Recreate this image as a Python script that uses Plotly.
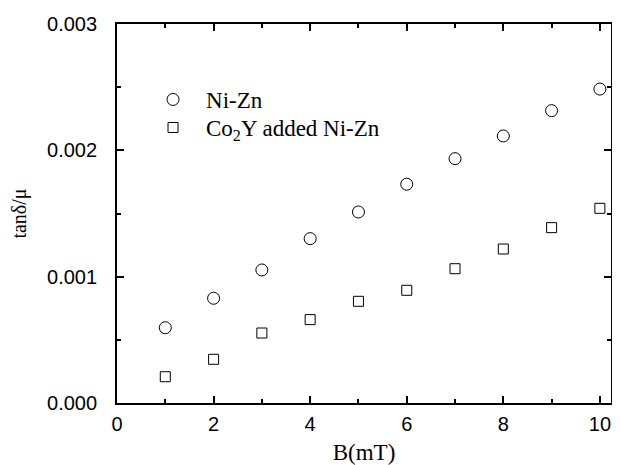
import plotly.graph_objects as go

B = [1, 2, 3, 4, 5, 6, 7, 8, 9, 10]
ni_zn = [0.000596, 0.000829, 0.001053, 0.001301, 0.001512, 0.001732, 0.001934, 0.002114, 0.002314, 0.002485]
co2y_ni_zn = [0.000208, 0.000346, 0.000554, 0.000660, 0.000805, 0.000892, 0.001063, 0.001219, 0.001388, 0.001541]
x_ticks = [0, 2, 4, 6, 8, 10]
y_ticks = [0.000, 0.001, 0.002, 0.003]
y_tick_labels = ["0.000", "0.001", "0.002", "0.003"]

SANS = "Liberation Sans, Arial, sans-serif"
SERIF = "Liberation Serif, Times New Roman, serif"

fig = go.Figure()
fig.add_trace(go.Scatter(
    x=B, y=ni_zn, mode="markers", name="Ni-Zn", legend="legend",
    marker=dict(symbol="circle-open", size=12, color="black", line=dict(width=1, color="black")),
))
fig.add_trace(go.Scatter(
    x=B, y=co2y_ni_zn, mode="markers", name="Co<sub>2</sub>Y added Ni-Zn", legend="legend2",
    marker=dict(symbol="square-open", size=10, color="black", line=dict(width=1, color="black")),
))

axis_common = dict(
    showline=True, linecolor="black", linewidth=1.8, mirror="ticks",
    ticks="inside", tickcolor="black", tickwidth=1.5, ticklen=7,
    showgrid=False, zeroline=False, automargin=False,
    tickfont=dict(family=SANS, size=20, color="black"),
)

legend_common = dict(
    xanchor="left", yanchor="top", bgcolor="rgba(0,0,0,0)", itemwidth=56,
    font=dict(family=SERIF, size=23, color="black"),
)

fig.update_layout(
    width=604, height=457,
    margin=dict(l=109, r=1, t=16, b=62),
    paper_bgcolor="white", plot_bgcolor="white",
    showlegend=True,
    legend=dict(legend_common, x=0.0466, y=0.8575),
    legend2=dict(legend_common, x=0.0466, y=0.7836),
    xaxis=dict(
        axis_common, range=[0, 10.23], tickvals=x_ticks, ticklabelstandoff=2,
        minor=dict(dtick=1, tick0=0, ticks="inside", ticklen=4, tickwidth=1.5, tickcolor="black"),
        title=dict(text="B(mT)", font=dict(family=SERIF, size=23, color="black"), standoff=10),
    ),
    yaxis=dict(
        axis_common, range=[0, 0.003], tickvals=y_ticks, ticktext=y_tick_labels, ticklabelstandoff=14,
        minor=dict(dtick=0.0005, tick0=0, ticks="inside", ticklen=4, tickwidth=1.5, tickcolor="black"),
        title=dict(text="tanδ/μ", font=dict(family=SERIF, size=20, color="black"), standoff=18),
    ),
)

fig.write_html("out.html")
